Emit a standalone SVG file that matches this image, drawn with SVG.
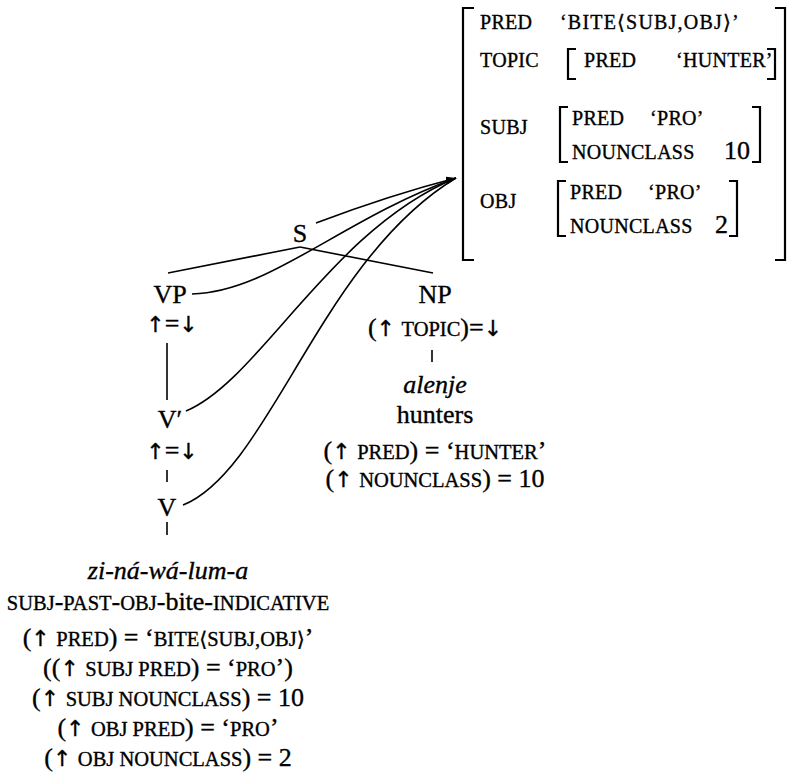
<svg xmlns="http://www.w3.org/2000/svg" width="790" height="778" viewBox="0 0 790 778">
<style>
text{font-family:"Liberation Serif","DejaVu Serif",serif;font-size:26px;fill:#000;stroke:#000;stroke-width:0.35}
.m{text-anchor:middle}
.e{text-anchor:end}
.sc{font-size:20.5px}
.fs{font-size:20px;letter-spacing:0.3px}
.it{font-style:italic}
.ar{font-family:"DejaVu Sans",sans-serif;font-size:22px}
.ln{stroke:#000;stroke-width:1.6;fill:none}
.br{stroke:#000;stroke-width:2.2;fill:none}
</style>
<defs>
<marker id="ah" viewBox="0 0 10 8" refX="10" refY="4" markerWidth="10" markerHeight="8" markerUnits="userSpaceOnUse" orient="auto">
<path d="M0,0 L10,4 L0,8 z" fill="#000"/>
</marker>
</defs>
<rect width="790" height="778" fill="#fff"/>

<g id="fstructure">
<path class="br" d="M474,8 H463 V260 H474"/>
<path class="br" d="M775,8 H785 V260 H775"/>
<text x="480" y="29" class="fs">PRED</text>
<text x="560" y="29" class="fs" style="letter-spacing:1.2px">‘BITE⟨SUBJ,OBJ⟩’</text>
<text x="480" y="67" class="fs">TOPIC</text>
<path class="br" d="M576,49 H568 V79 H576"/>
<text x="584" y="67" class="fs">PRED</text>
<text x="676" y="67" class="fs">‘HUNTER’</text>
<path class="br" d="M767,49 H775 V79 H767"/>
<text x="480" y="134" class="fs">SUBJ</text>
<path class="br" d="M568,107 H560 V162 H568"/>
<text x="572" y="125" class="fs">PRED</text>
<text x="650" y="125" class="fs">‘PRO’</text>
<text x="572" y="159" class="fs">NOUNCLASS</text>
<text x="750" y="159" class="e">10</text>
<path class="br" d="M752,107 H760 V162 H752"/>
<text x="480" y="208" class="fs">OBJ</text>
<path class="br" d="M566,181 H558 V236 H566"/>
<text x="570" y="199" class="fs">PRED</text>
<text x="648" y="199" class="fs">‘PRO’</text>
<text x="570" y="233" class="fs">NOUNCLASS</text>
<text x="728" y="233" class="e">2</text>
<path class="br" d="M729,181 H737 V236 H729"/>
</g>

<g id="connectors">
<path class="ln" d="M300,247 L168,273"/>
<path class="ln" d="M300,247 L433,273"/>
<path class="ln" d="M167,343 V400"/>
<path class="ln" d="M432,350 V362"/>
<path class="ln" d="M167,470 V482"/>
<path class="ln" d="M167,522 V535"/>
<path class="ln" d="M316,223 Q390,195 456,178" marker-end="url(#ah)"/>
<path class="ln" d="M192,294 C270,292 340,220 456,178"/>
<path class="ln" d="M186,411 C260,380 330,230 456,178"/>
<path class="ln" d="M183,505 C270,470 320,260 456,178"/>
</g>

<g id="S"><text x="300" y="242" class="m">S</text></g>
<g id="VP">
<text x="170" y="303" class="m">VP</text>
<text x="172" y="332" class="m"><tspan class="ar">↑</tspan>=<tspan class="ar">↓</tspan></text>
</g>
<g id="NP">
<text x="435" y="303" class="m">NP</text>
<text x="435" y="336" class="m">(<tspan class="ar">↑</tspan> <tspan class="sc">TOPIC</tspan>)=<tspan class="ar">↓</tspan></text>
</g>
<g id="alenje">
<text x="435" y="393" class="m it">alenje</text>
<text x="435" y="423" class="m">hunters</text>
<text x="435" y="459" class="m">(<tspan class="ar">↑</tspan> <tspan class="sc">PRED</tspan>) = ‘<tspan class="sc">HUNTER</tspan>’</text>
<text x="435" y="487" class="m">(<tspan class="ar">↑</tspan> <tspan class="sc">NOUNCLASS</tspan>) = 10</text>
</g>
<g id="Vbar">
<text x="170" y="428" class="m">V′</text>
<text x="172" y="459" class="m"><tspan class="ar">↑</tspan>=<tspan class="ar">↓</tspan></text>
</g>
<g id="V"><text x="167" y="516" class="m">V</text></g>
<g id="verb">
<text x="168" y="579" class="m it">zi-ná-wá-lum-a</text>
<text x="168" y="610" class="m"><tspan class="sc">SUBJ</tspan>-<tspan class="sc">PAST</tspan>-<tspan class="sc">OBJ</tspan>-bite-<tspan class="sc">INDICATIVE</tspan></text>
<text x="168" y="646" class="m">(<tspan class="ar">↑</tspan> <tspan class="sc">PRED</tspan>) = ‘<tspan class="sc">BITE⟨SUBJ,OBJ⟩</tspan>’</text>
<text x="168" y="676" class="m">((<tspan class="ar">↑</tspan> <tspan class="sc">SUBJ PRED</tspan>) = ‘<tspan class="sc">PRO</tspan>’)</text>
<text x="168" y="706" class="m">(<tspan class="ar">↑</tspan> <tspan class="sc">SUBJ NOUNCLASS</tspan>) = 10</text>
<text x="168" y="736" class="m">(<tspan class="ar">↑</tspan> <tspan class="sc">OBJ PRED</tspan>) = ‘<tspan class="sc">PRO</tspan>’</text>
<text x="168" y="766" class="m">(<tspan class="ar">↑</tspan> <tspan class="sc">OBJ NOUNCLASS</tspan>) = 2</text>
</g>
</svg>
